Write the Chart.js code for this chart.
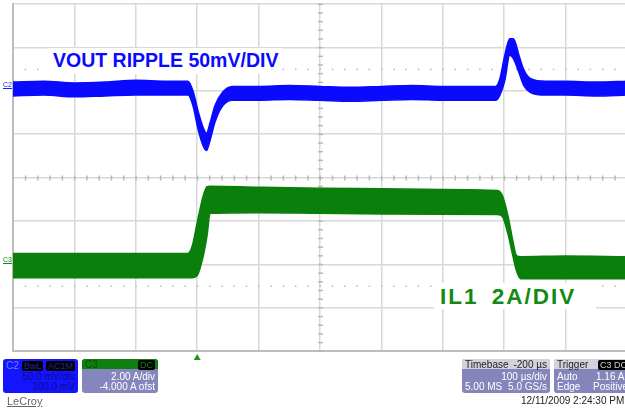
<!DOCTYPE html>
<html>
<head>
<meta charset="utf-8">
<script src="https://cdn.jsdelivr.net/npm/chart.js@4"></script>
<style>
  html, body { margin: 0; padding: 0; background: #fff; overflow: hidden; }
  body { width: 625px; height: 409px; position: relative; font-family: "Liberation Sans", Arial, sans-serif; }
  #wrap { position: absolute; left: 0; top: 0; width: 628px; height: 362px; }
  .tag { position: absolute; font-weight: bold; background: #fff; white-space: nowrap; line-height: 1; }
  .ch { position: absolute; font-size: 7px; line-height: 7px; text-decoration: underline; }
  .box { position: absolute; top: 359px; height: 34px; border-radius: 3px; overflow: hidden; font-size: 10px; line-height: 10px; }
  .row { position: absolute; left: 3px; right: 3px; white-space: nowrap; }
  .r { text-align: right; }
  .badge { background: #000; padding: 0 2px; border-radius: 2px; }
</style>
</head>
<body>
<div id="wrap"><canvas id="scope"></canvas></div>

<div class="tag" style="left:49px; top:48px; padding:3px 4px; font-size:19.5px; color:#0a0aff;">VOUT RIPPLE 50mV/DIV</div>
<div class="tag" style="left:434px; top:283px; width:162px; height:26px; padding:3px 6px; box-sizing:border-box; font-size:22.5px; letter-spacing:2px; word-spacing:5px; color:#138a13;">IL1 2A/DIV</div>

<div class="ch" style="left:3px; top:81px; color:#1a1aff;">C2</div>
<div class="ch" style="left:3px; top:256px; color:#138a13;">C3</div>

<div class="box" style="left:3px; width:75px; background:#1414ff;">
  <div class="row" style="top:2px; color:#6f7cff;">C2</div>
  <div class="row r" style="top:2px; color:#27278f; font-size:9px;"><span class="badge">BwL</span> <span class="badge">AC1M</span></div>
  <div class="row r" style="top:13px; color:#0c0c90;">50.0 mV/div</div>
  <div class="row r" style="top:23px; color:#0c0c90;">100.0 mV</div>
</div>
<div class="box" style="left:82px; width:76px; background:#8686bf;">
  <div style="position:absolute; left:0; right:0; top:0; height:10px; background:#0f7f0f;"></div>
  <div class="row" style="top:1px; color:#075007;">C3</div>
  <div class="row r" style="top:1px; color:#0f7f0f; font-size:9px;"><span class="badge">DC</span></div>
  <div class="row r" style="top:13px; color:#fff;">2.00 A/div</div>
  <div class="row r" style="top:23px; color:#fff;">-4.000 A ofst</div>
</div>
<div class="box" style="left:462px; width:88px; background:#8585bb;">
  <div style="position:absolute; left:0; right:0; top:0; height:10px; background:#d2d2de;"></div>
  <div class="row" style="top:1px; color:#222;">Timebase</div>
  <div class="row r" style="top:1px; color:#222;">-200 µs</div>
  <div class="row r" style="top:13px; color:#fff;">100 µs/div</div>
  <div class="row" style="top:23px; color:#fff;">5.00 MS</div>
  <div class="row r" style="top:23px; color:#fff;">5.0 GS/s</div>
</div>
<div class="box" style="left:554px; width:80px; background:#8585bb; border-radius:3px 0 0 3px;">
  <div style="position:absolute; left:0; right:0; top:0; height:10px; background:#d2d2de;"></div>
  <div class="row" style="top:1px; color:#222;">Trigger</div>
  <div class="row" style="top:1px; left:44px; color:#ccc; font-size:9px;"><span class="badge">C3 DC</span></div>
  <div class="row" style="top:13px; color:#fff;">Auto</div>
  <div class="row" style="top:13px; left:42px; color:#fff;">1.16 A</div>
  <div class="row" style="top:23px; color:#fff;">Edge</div>
  <div class="row" style="top:23px; left:39px; color:#fff;">Positive</div>
</div>
<div style="position:absolute; left:7px; top:395px; font-size:11px; color:#666; text-decoration:underline;">LeCroy</div>
<div style="position:absolute; left:521px; top:395px; font-size:10px; color:#222; white-space:nowrap;">12/11/2009 2:24:30 PM</div>

<script>
// time in µs (100 µs/div, trigger at 0)
const vTime = [-300, -250, -200, -150, -100, -50, -15, -7, 2, 10, 15, 21, 29, 41, 57, 100, 150, 200, 250, 300, 350, 400, 450, 486, 493, 501, 509, 515, 524, 532, 543, 568, 600, 650, 700];
// VOUT ripple envelope, mV
const vHigh = [10, 11, 9, 10, 12, 11, 11, 0, -25, -43, -49, -37, -17, -2, 5, 5, 6, 5, 4, 5, 6, 5, 5, 5, 14, 41, 60, 60, 41, 24, 14, 11, 11, 10, 11];
const vLow = [-6, -5, -7, -6, -5, -5, -5, -17, -46, -64, -69, -57, -36, -18, -11, -11, -10, -11, -12, -11, -10, -11, -11, -11, -5, 12, 41, 37, 21, 6, -2, -5, -5, -6, -5];

const iTime = [-300, -200, -100, -15, -8, 0, 10, 16, 21, 100, 200, 300, 400, 489, 497, 506, 514, 520, 527, 600, 700];
// inductor current envelope, A
const iHigh = [0.5, 0.5, 0.5, 0.5, 0.85, 1.92, 3.17, 3.58, 3.6, 3.55, 3.5, 3.48, 3.45, 3.4, 3.17, 2.25, 1.09, 0.4, 0.35, 0.38, 0.35];
const iLow = [-0.62, -0.62, -0.62, -0.62, -0.62, -0.52, 0.4, 1.32, 2.35, 2.38, 2.35, 2.32, 2.3, 2.29, 2.2, 1.41, 0.4, -0.3, -0.67, -0.67, -0.67];

const timeRange = [-300, 700];   // 10 div
const vRange = [-300, 100];      // 50 mV/div, 8 div
const iRange = [-4, 12];         // 2 A/div, -4 A offset
const trigTime = 0;

const pts = (t, y) => t.map((x, k) => ({ x, y: y[k] }));

const BLUE = "#0a0aff";
const GREEN = "#0b7f0b";

// graticule extras: minor ticks on the centre cross and the two dotted rows
const graticule = {
  id: "graticule",
  beforeDatasetsDraw(chart) {
    const { ctx, scales } = chart;
    const xs = scales.x, ys = scales.yV;
    const cy = ys.getPixelForValue((vRange[0] + vRange[1]) / 2);
    const cx = xs.getPixelForValue((timeRange[0] + timeRange[1]) / 2);
    ctx.save();
    ctx.fillStyle = "#b8b8b8";
    for (let t = timeRange[0]; t <= timeRange[1]; t += 20) {
      const px = xs.getPixelForValue(t);
      ctx.fillRect(px - 0.5, cy - 2, 1.5, 5);
      [25, -225].forEach((v) => {
        ctx.fillRect(px - 0.5, ys.getPixelForValue(v) - 0.5, 1.5, 1.5);
      });
    }
    for (let v = vRange[0]; v <= vRange[1]; v += 10) {
      const py = ys.getPixelForValue(v);
      ctx.fillRect(cx - 2, py - 0.5, 5, 1.5);
    }
    ctx.restore();
  },
  afterDraw(chart) {
    const { ctx, chartArea: a, scales } = chart;
    const px = scales.x.getPixelForValue(trigTime);
    ctx.save();
    ctx.fillStyle = "#1a9a1a";
    ctx.beginPath();
    ctx.moveTo(px, a.bottom + 3);
    ctx.lineTo(px + 3.5, a.bottom + 9);
    ctx.lineTo(px - 3.5, a.bottom + 9);
    ctx.closePath();
    ctx.fill();
    ctx.restore();
  },
};

const band = (data, color, axis, fill) => ({
  data,
  yAxisID: axis,
  borderColor: color,
  backgroundColor: color,
  borderWidth: 1.5,
  pointRadius: 0,
  cubicInterpolationMode: "monotone",
  fill,
});

new Chart(document.getElementById("scope"), {
  type: "line",
  data: {
    datasets: [
      band(pts(vTime, vHigh), BLUE, "yV", "+1"),
      band(pts(vTime, vLow), BLUE, "yV", false),
      band(pts(iTime, iHigh), GREEN, "yI", "+1"),
      band(pts(iTime, iLow), GREEN, "yI", false),
    ],
  },
  options: {
    responsive: true,
    maintainAspectRatio: false,
    animation: false,
    layout: { padding: { left: 13, top: 4, right: 1, bottom: 11 } },
    plugins: { legend: { display: false }, tooltip: { enabled: false } },
    scales: {
      x: {
        type: "linear",
        min: timeRange[0],
        max: timeRange[1],
        ticks: { display: false, stepSize: 100 },
        grid: { color: "#d8d8d8", lineWidth: 1.5, drawTicks: false },
        border: { color: "#bdbdbd", width: 2 },
      },
      yV: {
        position: "left",
        min: vRange[0],
        max: vRange[1],
        ticks: { display: false, stepSize: 50 },
        grid: { color: "#d8d8d8", lineWidth: 1.5, drawTicks: false },
        border: { color: "#bdbdbd", width: 2 },
      },
      yI: { display: false, min: iRange[0], max: iRange[1] },
    },
  },
  plugins: [graticule],
});
</script>
</body>
</html>
